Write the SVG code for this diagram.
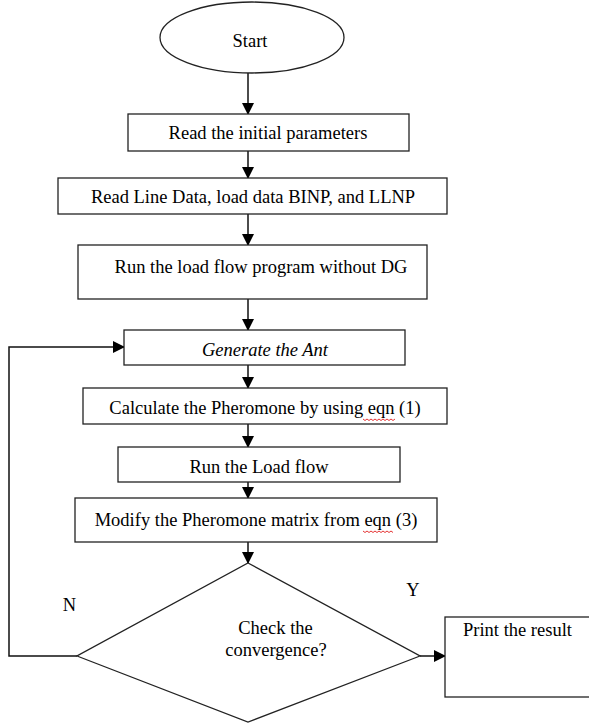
<svg xmlns="http://www.w3.org/2000/svg" width="589" height="725" viewBox="0 0 589 725">
<defs>
<marker id="ah" markerWidth="12" markerHeight="12" refX="11" refY="6" orient="auto" markerUnits="userSpaceOnUse">
<path d="M0,0 L12,6 L0,12 Z" fill="#000"/>
</marker>
<style>
.s{fill:#fff;stroke:#222;stroke-width:1.3}
.t{font-family:"Liberation Serif","Times New Roman",serif;font-size:18.5px;fill:#000;text-anchor:middle}
.c{fill:none;stroke:#111;stroke-width:1.5}
.w{fill:none;stroke:#d00;stroke-width:0.8}
</style>
</defs>
<rect width="589" height="725" fill="#fff"/>
<g id="connectors">
<line class="c" x1="248" y1="73" x2="248" y2="114" marker-end="url(#ah)"/>
<line class="c" x1="248" y1="151" x2="248" y2="178" marker-end="url(#ah)"/>
<line class="c" x1="248" y1="214" x2="248" y2="245" marker-end="url(#ah)"/>
<line class="c" x1="248" y1="299" x2="248" y2="330" marker-end="url(#ah)"/>
<line class="c" x1="248" y1="365" x2="248" y2="388" marker-end="url(#ah)"/>
<line class="c" x1="248" y1="424" x2="248" y2="447" marker-end="url(#ah)"/>
<line class="c" x1="248" y1="482" x2="248" y2="498" marker-end="url(#ah)"/>
<line class="c" x1="248" y1="542" x2="248" y2="563" marker-end="url(#ah)"/>
<polyline class="c" points="77,656 9,656 9,347 124,347" marker-end="url(#ah)"/>
<line class="c" x1="420" y1="656" x2="445" y2="656" marker-end="url(#ah)"/>
<text class="t" x="69.5" y="611">N</text>
<text class="t" x="413" y="596">Y</text>
</g>
<g id="start">
<ellipse class="s" cx="252" cy="37.5" rx="92" ry="35.5"/>
<text class="t" x="250" y="47">Start</text>
</g>
<g id="read-params">
<rect class="s" x="128" y="114" width="281" height="37"/>
<text class="t" x="268" y="139">Read the initial parameters</text>
</g>
<g id="read-line">
<rect class="s" x="58" y="178" width="389" height="36"/>
<text class="t" x="253" y="203">Read Line Data, load data BINP, and LLNP</text>
</g>
<g id="run-noDG">
<rect class="s" x="78" y="245" width="349" height="54"/>
<text class="t" x="261" y="273">Run the load flow program without DG</text>
</g>
<g id="generate">
<rect class="s" x="124" y="330" width="281" height="35"/>
<text class="t" x="265" y="356" font-style="italic">Generate the Ant</text>
</g>
<g id="calc">
<rect class="s" x="83" y="388" width="364" height="36"/>
<text class="t" x="265" y="414">Calculate the Pheromone by using eqn (1)</text>
<path class="w" d="M363,419 l2,1.5 l2,-1.5 l2,1.5 l2,-1.5 l2,1.5 l2,-1.5 l2,1.5 l2,-1.5 l2,1.5 l2,-1.5 l2,1.5 l2,-1.5 l2,1.5 l2,-1.5 l2,1.5 l2,-1.5"/>
</g>
<g id="run-lf">
<rect class="s" x="118" y="447" width="282" height="35"/>
<text class="t" x="259" y="473">Run the Load flow</text>
</g>
<g id="modify">
<rect class="s" x="75" y="498" width="362" height="44"/>
<text class="t" x="256" y="526">Modify the Pheromone matrix from eqn (3)</text>
<path class="w" d="M363,531 l2,1.5 l2,-1.5 l2,1.5 l2,-1.5 l2,1.5 l2,-1.5 l2,1.5 l2,-1.5 l2,1.5 l2,-1.5 l2,1.5 l2,-1.5 l2,1.5 l2,-1.5 l2,1.5"/>
</g>
<g id="check">
<polygon class="s" points="248,563 420,656 248,722 77,656"/>
<text class="t" x="275.5" y="634">Check the</text>
<text class="t" x="276" y="656">convergence?</text>
</g>
<g id="print">
<rect class="s" x="445" y="617" width="150" height="80"/>
<text class="t" x="517.5" y="636">Print the result</text>
</g>
</svg>
